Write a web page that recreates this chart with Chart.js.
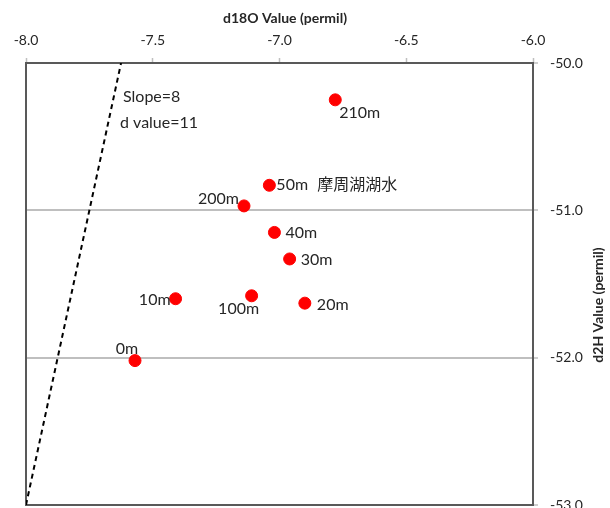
<!DOCTYPE html>
<html>
<head>
<meta charset="utf-8">
<script src="https://cdn.jsdelivr.net/npm/chart.js@4"></script>
<style>
  body { margin: 0; background: #fff; }
</style>
</head>
<body>
<canvas id="isoChart" width="610" height="508"></canvas>
<script>
// sample depths and isotope values
const depthLabels = ['0m', '10m', '20m', '30m', '40m', '50m', '100m', '200m', '210m'];
const d18O = [-7.57, -7.41, -6.90, -6.96, -7.02, -7.04, -7.11, -7.14, -6.78];
const d2H = [-52.02, -51.60, -51.63, -51.33, -51.15, -50.83, -51.58, -50.97, -50.25];

// meteoric water line (slope 8, d value 11), end points
const lineX = [-8.0, -7.625];
const lineY = [-53.0, -50.0];

const xTicks = [-8.0, -7.5, -7.0, -6.5, -6.0];
const yTicks = [-50.0, -51.0, -52.0, -53.0];

const noteLines = ['Slope=8', 'd value=11'];
const lakeNote = '摩周湖湖水';

// where each point label sits relative to its dot
const labelSpots = {
  '0m':   { dx: -8,  dy: -12, align: 'center' },
  '10m':  { dx: -5,  dy: 1,   align: 'right' },
  '20m':  { dx: 12,  dy: 2,   align: 'left' },
  '30m':  { dx: 11,  dy: 1,   align: 'left' },
  '40m':  { dx: 11,  dy: 0,   align: 'left' },
  '50m':  { dx: 7,   dy: 0,   align: 'left' },
  '100m': { dx: -13, dy: 13,  align: 'center' },
  '200m': { dx: -5,  dy: -7,  align: 'right' },
  '210m': { dx: 4,   dy: 13,  align: 'left' }
};

const FONT = 'Lato, "Noto Sans CJK JP", sans-serif';
Chart.defaults.font.family = FONT;
Chart.defaults.color = '#262626';

const frameAndText = {
  id: 'frameAndText',
  beforeDatasetsDraw(chart) {
    const { ctx, chartArea: a } = chart;
    ctx.save();
    ctx.strokeStyle = '#595959';
    ctx.lineWidth = 2;
    ctx.strokeRect(a.left, a.top, a.right - a.left, a.bottom - a.top);
    ctx.restore();
  },
  afterDraw(chart) {
    const { ctx } = chart;
    ctx.save();
    ctx.fillStyle = '#262626';
    ctx.textBaseline = 'middle';

    // axis titles
    ctx.font = 'bold 14px ' + FONT;
    ctx.textAlign = 'center';
    ctx.fillText('d18O Value (permil)', 285, 18);
    ctx.save();
    ctx.translate(598, 305);
    ctx.rotate(-Math.PI / 2);
    ctx.fillText('d2H Value (permil)', 0, 0);
    ctx.restore();

    // line notes
    ctx.font = '16px ' + FONT;
    ctx.textAlign = 'left';
    ctx.fillText(noteLines[0], 123, 97);
    ctx.fillText(noteLines[1], 120, 123);

    // point labels
    const meta = chart.getDatasetMeta(1);
    meta.data.forEach((pt, i) => {
      const s = labelSpots[depthLabels[i]];
      ctx.textAlign = s.align;
      ctx.fillText(depthLabels[i], pt.x + s.dx, pt.y + s.dy);
      if (depthLabels[i] === '50m') {
        ctx.textAlign = 'left';
        ctx.fillText(lakeNote, pt.x + 48, pt.y);
      }
    });
    ctx.restore();
  }
};

const noEdgePad = s => { s.paddingTop = 0; s.paddingBottom = 0; s.paddingLeft = 0; s.paddingRight = 0; };

new Chart(document.getElementById('isoChart'), {
  type: 'scatter',
  data: {
    datasets: [
      {
        data: lineX.map((x, i) => ({ x: x, y: lineY[i] })),
        showLine: true,
        borderColor: '#000',
        borderWidth: 2,
        borderDash: [5, 4],
        pointRadius: 0,
        order: 2
      },
      {
        data: d18O.map((x, i) => ({ x: x, y: d2H[i] })),
        backgroundColor: '#ff0000',
        borderColor: '#ff0000',
        pointRadius: 6,
        order: 1
      }
    ]
  },
  options: {
    responsive: false,
    devicePixelRatio: 1,
    animation: false,
    layout: { autoPadding: false, padding: { left: 26, right: 0, top: 0, bottom: 3 } },
    plugins: { legend: { display: false }, tooltip: { enabled: false } },
    scales: {
      x: {
        type: 'linear',
        position: 'top',
        min: -8,
        max: -6,
        afterBuildTicks: s => { s.ticks = xTicks.map(v => ({ value: v })); },
        afterFit: s => { s.height = 63; noEdgePad(s); },
        ticks: { font: { size: 14 }, padding: 9, maxRotation: 0, callback: v => v.toFixed(1) },
        grid: { drawOnChartArea: false, drawTicks: true, tickLength: 5, tickColor: '#bfbfbf', tickWidth: 1.5 },
        border: { display: false }
      },
      y: {
        type: 'linear',
        position: 'right',
        min: -53,
        max: -50,
        afterBuildTicks: s => { s.ticks = yTicks.map(v => ({ value: v })); },
        afterFit: s => { s.width = 77; noEdgePad(s); },
        ticks: { font: { size: 14 }, padding: 12, callback: v => v.toFixed(1) },
        grid: {
          color: c => (c.tick && (c.tick.value === -51 || c.tick.value === -52)) ? '#bfbfbf' : 'rgba(0,0,0,0)',
          lineWidth: 2,
          drawTicks: true,
          tickLength: 5,
          tickColor: '#bfbfbf',
          tickWidth: 1.5
        },
        border: { display: false }
      }
    }
  },
  plugins: [frameAndText]
});
</script>
</body>
</html>
